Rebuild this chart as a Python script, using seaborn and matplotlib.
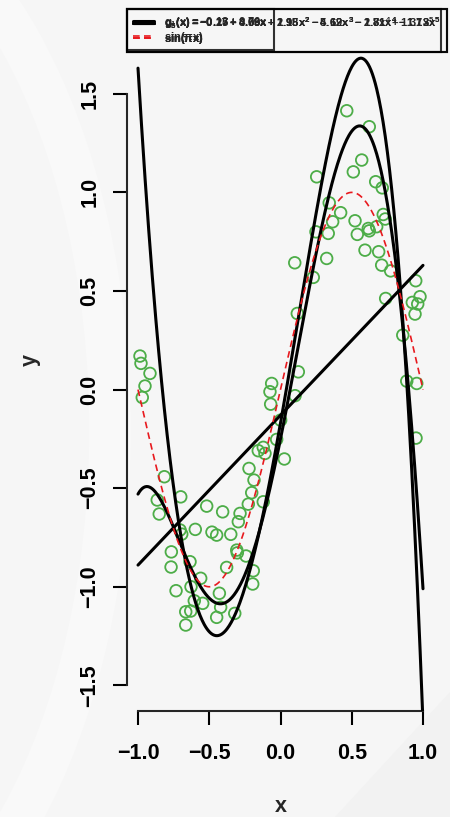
import numpy as np
import pandas as pd
import seaborn as sns
import matplotlib
matplotlib.use("Agg")
import matplotlib.pyplot as plt
from matplotlib.lines import Line2D
from matplotlib.patches import Circle, Polygon

# noisy sample of sin(pi x)
x_obs = [-0.986, -0.979, -0.916, -0.951, -0.970, -0.815, -0.865, -0.700, -0.851, -0.518,
         -0.406, -0.705, -0.693, -0.598, -0.481, -0.448, -0.349, -0.766, -0.768, -0.635,
         -0.560, -0.628, -0.733, -0.605, -0.546, -0.665, -0.630, -0.665, -0.429, -0.420,
         -0.448, -0.321, -0.378, -0.307, -0.303, -0.242, -0.191, -0.195, -0.284, -0.296,
         -0.226, -0.202, -0.186, -0.221, -0.121, -0.156, -0.121, -0.109, 0.027, -0.027,
         0.001, -0.062, -0.074, -0.069, 0.102, 0.125,
         0.465, 0.623, 0.254, 0.570, 0.511, 0.668, 0.714, 0.342, 0.422, 0.366,
         0.523, 0.721, 0.735, 0.249, 0.335, 0.539, 0.616, 0.623, 0.675, 0.100,
         0.324, 0.593, 0.689, 0.710, 0.773, 0.230, 0.949, 0.979, 0.925, 0.963,
         0.944, 0.738, 0.118, 0.858, 0.886, 0.956, 0.951]
y_obs = [0.170, 0.133, 0.082, 0.018, -0.040, -0.442, -0.560, -0.544, -0.631, -0.591,
         -0.620, -0.712, -0.733, -0.709, -0.723, -0.738, -0.734, -0.823, -0.900, -0.873,
         -0.957, -1.000, -1.020, -1.071, -1.084, -1.127, -1.123, -1.194, -1.033, -1.104,
         -1.155, -1.135, -0.902, -0.814, -0.828, -0.844, -0.919, -0.986, -0.628, -0.670,
         -0.581, -0.523, -0.459, -0.400, -0.569, -0.310, -0.293, -0.324, -0.352, -0.253,
         -0.155, 0.031, -0.011, -0.074, -0.031, 0.090,
         1.414, 1.333, 1.079, 1.164, 1.104, 1.054, 1.023, 0.947, 0.897, 0.851,
         0.856, 0.888, 0.865, 0.800, 0.792, 0.787, 0.817, 0.805, 0.826, 0.643,
         0.665, 0.707, 0.699, 0.631, 0.602, 0.569, 0.552, 0.471, 0.442, 0.434,
         0.383, 0.462, 0.386, 0.276, 0.043, 0.031, -0.246]

# polynomial fits, coefficients from the constant term upwards
coef_lin = [-0.13, 0.76]
coef_mid = [-0.25, 3.58, 2.18, -5.19, -2.70, 1.37]
coef_big = [-0.17, 4.09, 1.95, -4.62, -1.81, -1.13]

x_ticks = [-1.0, -0.5, 0.0, 0.5, 1.0]
y_ticks = [-1.5, -1.0, -0.5, 0.0, 0.5, 1.0, 1.5]

sns.set_style("ticks")
plt.rcParams["font.family"] = ["Liberation Sans", "DejaVu Sans"]
plt.rcParams["font.weight"] = "bold"
plt.rcParams["mathtext.fontset"] = "custom"
for k in ("rm", "it", "bf", "sf"):
    plt.rcParams["mathtext." + k] = "Liberation Sans:bold"

W, H = 450, 817
fig = plt.figure(figsize=(W / 100, H / 100), dpi=100, facecolor="#f6f6f6")

# soft backdrop shapes
fig.patches.append(Circle((-190 / W, 1 - 430 / H), 300 / W, transform=fig.transFigure,
                          facecolor="none", edgecolor="#f9f9f9", linewidth=30, zorder=-5))
fig.patches.append(Polygon([(335 / W, 0), (1, 125 / H), (1, 0)], closed=True,
                           transform=fig.transFigure, facecolor="#f2f2f2",
                           edgecolor="none", zorder=-5))

left, right, bottom, top = 126.6, 434.4, 711.0, 9.0
ax = fig.add_axes([left / W, 1 - bottom / H, (right - left) / W, (bottom - top) / H])
ax.set_zorder(1)
ax.set_facecolor("none")
ax.set_xlim(-1.08, 1.08)
ax.set_ylim(-1.630, 1.930)

xs = np.linspace(-1, 1, 401)
curves = pd.DataFrame({
    "x": np.concatenate([xs] * 4),
    "y": np.concatenate([np.polynomial.polynomial.polyval(xs, coef_lin),
                         np.polynomial.polynomial.polyval(xs, coef_mid),
                         np.polynomial.polynomial.polyval(xs, coef_big),
                         np.sin(np.pi * xs)]),
    "curve": np.repeat(["lin", "mid", "big", "sin"], len(xs)),
})
obs = pd.DataFrame({"x": x_obs, "y": y_obs})

sns.scatterplot(data=obs, x="x", y="y", ax=ax, marker="o", s=70,
                facecolor="none", edgecolor="#4dad48", linewidth=1.3, zorder=2)
for name in ("lin", "mid", "big"):
    sns.lineplot(data=curves[curves.curve == name], x="x", y="y", ax=ax,
                 color="black", linewidth=2.2, sort=False, estimator=None, zorder=3)
sns.lineplot(data=curves[curves.curve == "sin"], x="x", y="y", ax=ax,
             color="#e8191e", linewidth=1.2, sort=False, estimator=None, zorder=4)
ax.lines[-1].set_dashes([4, 2.6])

# axes in base-graphics style
for s in ("top", "right"):
    ax.spines[s].set_visible(False)
ax.spines["left"].set_bounds(y_ticks[0], y_ticks[-1])
ax.spines["bottom"].set_bounds(x_ticks[0], x_ticks[-1])
for s in ("left", "bottom"):
    ax.spines[s].set_linewidth(1.5)
ax.set_xticks(x_ticks)
ax.set_yticks(y_ticks)
ax.tick_params(axis="both", direction="out", length=10, width=1.5, labelsize=15.5,
               colors="black")
ax.tick_params(axis="x", pad=13)
ax.tick_params(axis="y", pad=9)
for lab in ax.get_yticklabels():
    lab.set_rotation(90)
    lab.set_va("center")
ax.set_xlabel("x", fontsize=15.5, fontweight="bold")
ax.set_ylabel("y", fontsize=15.5, fontweight="bold")
ax.xaxis.set_label_coords(0.5, (bottom - 807) / (bottom - top))
ax.xaxis.label.set_va("center")
ax.yaxis.set_label_coords((30 - left) / (right - left), 0.5)
ax.yaxis.label.set_va("center")


def poly_label(idx, coefs):
    parts = ["g_{%d}(x) = %.2f" % (idx, coefs[0])]
    for p, c in enumerate(coefs[1:], start=1):
        v = f"{abs(c):.2f}".rstrip("0").rstrip(".")
        term = "x" if p == 1 else "x^{%d}" % p
        parts.append(("- " if c < 0 else "+ ") + v + term)
    return "$" + " ".join(parts) + "$"


# one legend per fit, all stacked in the same corner
handles = [Line2D([], [], color="black", linewidth=2.2),
           Line2D([], [], color="#e8191e", linewidth=1.2, dashes=[4, 2.6])]
for idx, coefs in ((1, coef_lin), (5, coef_mid), (5, coef_big)):
    leg = ax.legend(handles, [poly_label(idx, coefs), r"$\sin(\pi x)$"],
                    loc="upper left", bbox_to_anchor=(0, 1), borderaxespad=0,
                    fancybox=False, edgecolor="black", facecolor="none",
                    handlelength=1.9, handletextpad=0.9, borderpad=0.55,
                    labelspacing=0.1, prop={"weight": "bold", "size": 8})
    leg.get_frame().set_linewidth(1.5)
    ax.add_artist(leg)

fig.savefig("out.png", dpi=100, facecolor=fig.get_facecolor())
